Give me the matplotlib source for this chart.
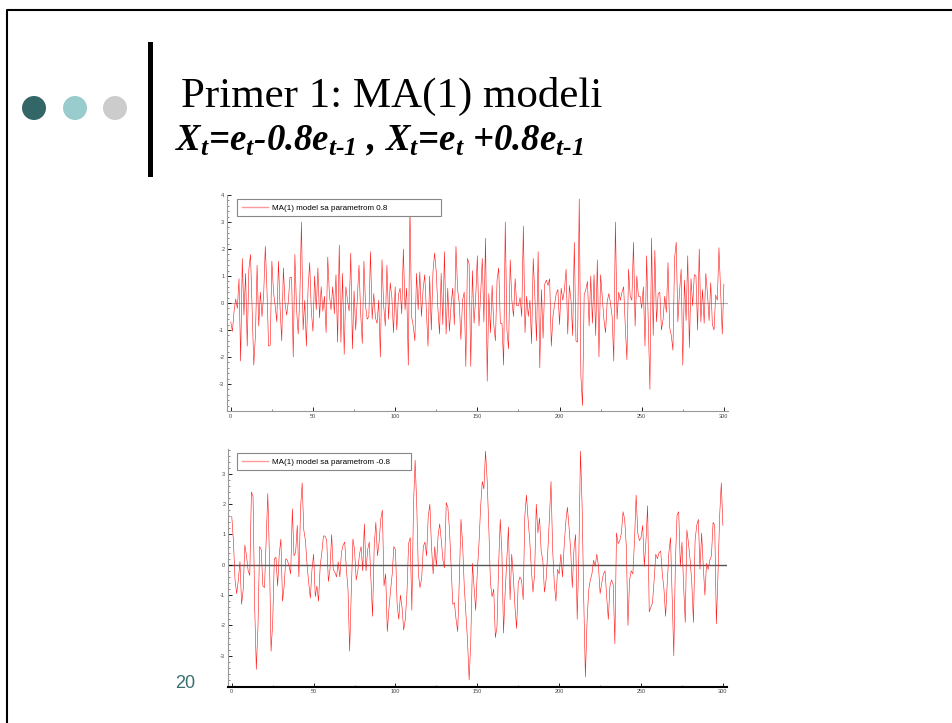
#!/usr/bin/env python
"""
Slide 20: MA(1) examples, X_t = e_t - 0.8 e_{t-1} and X_t = e_t + 0.8 e_{t-1}
"""

import numpy as np
import matplotlib
matplotlib.use("Agg")
import matplotlib.pyplot as plt
from matplotlib.patches import Ellipse, Rectangle
from matplotlib.lines import Line2D
from matplotlib.ticker import MultipleLocator

# series (t = 0..300)
ma_pos = [
    -0.7, -1.05, -0.3, 0.15, -0.2, 0.9, -2.15, 1.65, -0.45, 1.1,
    -1.6, 1.25, 1.8, -0.3, -2.3, -1.2, 1.4, -0.85, 0.4, -0.5,
    0.3, 2.1, 0.5, -1.6, -1.55, 1.55, 0.4, -0.1, -0.7, 1.55,
    -0.2, -1.4, 1.3, 0.0, -0.45, 0.05, 0.95, 0.95, -2.0, 1.8,
    -0.2, -1.15, 0.2, 3.0, -1.0, 0.1, -1.6, 0.5, 1.5, -0.3,
    -1.05, 1.0, -0.25, 1.3, -0.55, 0.6, -0.3, 0.25, -1.1, 1.7,
    0.3, -0.25, 0.6, -0.4, 1.05, -1.45, 2.15, -1.45, 1.1, -1.9,
    0.6, 0.1, -0.3, 1.85, -1.7, 0.45, -1.0, 0.2, 1.4, -0.35,
    -1.5, 1.55, -0.1, -0.6, -0.5, 1.9, -0.6, 0.35, -0.55, -0.75,
    0.1, -2.0, 1.6, -0.1, -0.85, 1.4, -0.6, 0.75, 0.2, -1.1,
    0.6, -1.0, 0.3, 0.55, -0.4, 2.0, -0.25, 0.55, -2.3, 3.6,
    -0.5, -0.85, -1.4, 1.1, -0.25, 1.15, -0.5, 0.5, 1.05, -0.25,
    -1.6, 1.0, -1.0, 1.15, 1.85, 1.15, -0.2, -1.15, 1.1, -0.8,
    1.9, -1.15, 0.55, -1.05, -0.1, 0.55, -0.8, 2.1, 0.5, 0.0,
    -1.35, 0.1, 0.4, -2.35, 1.65, 1.45, -2.35, 1.2, -0.75, 0.2,
    1.75, -0.85, 0.3, 1.65, -0.7, 2.4, -2.9, 0.35, -1.1, 0.65,
    -0.8, -1.4, 0.85, 1.3, -0.75, -0.75, -2.3, 3.0, -1.0, -1.7,
    1.6, 0.1, -0.5, 0.9, -0.1, -0.1, 0.2, -0.5, 2.85, -1.1,
    0.25, -0.5, 0.1, -1.5, 1.65, 0.25, -1.4, 1.9, -2.4, 0.5,
    -1.3, 0.7, 0.85, 0.65, 0.9, -1.6, -0.5, -0.05, 0.35, 0.5,
    -0.8, 0.55, 0.1, 0.5, 1.25, -1.15, 0.65, 0.1, -1.2, 2.25,
    -1.4, -1.45, 3.85, -2.7, -3.8, 0.3, 0.5, 0.8, -0.85, 1.0,
    -0.75, 1.05, -1.2, 1.6, -2.0, 1.05, 0.25, -0.6, -1.1, 0.05,
    0.35, 0.0, -0.5, -2.15, 3.0, -0.6, 0.4, 0.1, 0.4, 0.6,
    -0.85, -2.1, 1.25, 0.25, 0.1, 2.25, -0.85, 1.0, 0.25, 0.25,
    -0.2, 0.6, -1.6, 1.75, -0.75, -3.2, 2.4, -1.2, 1.95, -0.7,
    0.35, 0.4, -1.0, -0.6, 0.25, -0.35, 1.5, -0.9, -1.2, -1.75,
    1.65, 2.25, -0.7, 0.4, 1.25, -2.3, 0.85, -0.65, 1.75, -1.65,
    0.9, -0.1, 1.05, 1.0, -1.0, 2.0, -0.7, 0.5, -0.75, 1.1,
    0.35, -0.65, 0.75, -0.8, -1.0, 0.3, 0.1, 2.05, 0.5, -1.15,
    0.7,
]

ma_neg = [
    1.6, 0.8, -0.5, -0.95, -0.5, 0.1, -1.3, -0.8, 0.65, 0.3,
    -0.2, -0.35, 2.4, 2.25, -1.4, -3.45, -2.05, 0.6, 0.5, -0.7,
    -0.75, 0.8, 2.35, 0.3, -2.85, -1.9, 0.2, 0.25, -0.7, 0.35,
    0.85, -1.2, -0.7, 0.2, 0.15, -0.05, -0.3, 1.85, 0.3, 0.4,
    1.3, -0.4, 1.85, 2.7, 1.15, 0.8, 0.0, -0.6, -1.1, -0.15,
    0.35, -1.05, -0.7, -1.2, -0.05, 0.4, 0.95, 0.95, 0.8, -0.55,
    -0.15, 1.0, -0.15, -0.25, -0.4, 0.1, -0.4, 0.4, 0.65, 0.75,
    -0.15, -0.8, -2.85, -0.9, 0.85, 0.5, -0.5, -0.2, 0.35, 0.6,
    -0.2, 1.35, -0.2, 0.5, 0.75, -0.5, -1.7, 0.6, 1.4, 0.3,
    0.75, 1.5, 1.8, -0.7, -0.3, -2.2, -1.45, -0.85, -0.3, 0.6,
    0.5, -1.3, -1.8, -1.0, -1.4, -2.15, -1.8, -0.95, 0.7, 0.9,
    -1.5, 1.95, 3.45, 1.95, -0.3, -0.75, -0.45, 0.6, 0.75, 0.3,
    1.6, 2.0, 0.6, -0.3, 0.6, -0.05, 0.95, 1.35, 0.8, 0.15,
    -0.1, 2.05, 1.9, 1.15, -0.1, -1.3, -1.25, -1.8, -2.2, -0.5,
    1.5, 0.7, -0.7, -1.6, -2.5, -3.8, -2.5, 0.05, -0.7, -1.5,
    -0.2, 0.7, 1.9, 2.75, 2.5, 3.75, 2.8, 1.25, -0.6, -1.05,
    -0.8, -2.4, -2.05, 0.0, 1.5, 0.4, -2.25, -0.9, 0.15, 1.25,
    -1.15, 0.35, -0.4, -1.4, -2.1, -0.6, -0.4, -0.5, -1.15, 1.6,
    2.3, 1.5, 0.8, -0.15, -0.9, -0.3, 2.0, 1.05, 1.55, 0.45,
    0.15, -0.9, -0.5, 0.4, 1.5, 2.75, 0.5, -0.6, -1.2, -0.15,
    -0.3, 0.35, -0.4, 0.6, 1.4, 1.9, 1.25, 0.5, -0.75, 0.5,
    1.0, -1.8, 0.3, 3.75, 1.95, -1.15, -3.7, -1.9, -0.85, -0.5,
    -0.3, 0.15, -0.05, 0.35, -0.05, -0.95, -0.6, -0.3, -0.2, -1.05,
    -1.8, -0.7, -0.5, -0.65, -2.6, 1.05, 0.7, 0.8, 1.05, 1.75,
    1.5, 0.6, -2.0, -0.5, -0.2, -0.3, 0.8, 2.3, 1.05, 0.8,
    0.9, 1.3, -0.05, 0.8, 1.95, -1.55, -1.4, -1.25, -0.5, 0.35,
    0.2, 0.4, 0.45, -0.3, -0.8, -1.7, -0.6, 0.4, 0.9, -1.05,
    -3.0, 0.15, 1.65, 1.75, -0.05, 0.75, -0.7, -1.9, 1.15, 0.7,
    0.15, -0.6, -1.9, 0.8, 1.3, 1.5, -0.15, 1.05, -0.05, -1.0,
    0.05, -0.15, 0.15, 0.3, 1.4, 1.3, -1.95, -0.3, 1.6, 2.7,
    1.3,
]

labels = ["MA(1) model sa parametrom 0.8", "MA(1) model sa parametrom -0.8"]
title = "Primer 1: MA(1) modeli"
subtitle = r"$X_t$=$e_t$-0.8$e_{t\text{-}1}$ , $X_t$=$e_t$ +0.8$e_{t\text{-}1}$"
page_no = "20"


def style_axes(ax, ylim, yticks, bottom_color, bottom_lw):
    ax.set_xlim(-2.3, 302.5)
    ax.set_ylim(*ylim)
    ax.set_xticks(np.arange(0, 301, 50))
    ax.xaxis.set_minor_locator(MultipleLocator(25))
    ax.set_yticks(yticks)
    ax.yaxis.set_minor_locator(MultipleLocator(0.2))
    ax.tick_params(which="both", direction="in", labelsize=4,
                   labelcolor="#444444", width=0.6, pad=2)
    ax.tick_params(which="major", length=3)
    ax.tick_params(which="minor", length=1.6, color="#777777")
    ax.spines["top"].set_visible(False)
    ax.spines["right"].set_visible(False)
    ax.spines["left"].set_color("#999999")
    ax.spines["left"].set_linewidth(0.8)
    ax.spines["bottom"].set_color(bottom_color)
    ax.spines["bottom"].set_linewidth(bottom_lw)


def add_legend(ax, anchor):
    leg = ax.legend(loc="upper left", bbox_to_anchor=anchor, mode="expand",
                    borderaxespad=0, fontsize=5.8, handlelength=3.3,
                    handletextpad=0.5, borderpad=0.6, fancybox=False,
                    framealpha=1)
    leg.get_frame().set_edgecolor("#888888")
    leg.get_frame().set_linewidth(0.8)
    leg.get_lines()[0].set_color("#ff9999")
    leg.get_lines()[0].set_linewidth(1.0)


def main():
    plt.rcParams["font.family"] = "Liberation Sans"
    plt.rcParams["axes.unicode_minus"] = False
    plt.rcParams["mathtext.fontset"] = "custom"
    plt.rcParams["mathtext.rm"] = "Liberation Serif:bold:italic"
    plt.rcParams["mathtext.it"] = "Liberation Serif:bold:italic"
    plt.rcParams["mathtext.bf"] = "Liberation Serif:bold:italic"

    fig = plt.figure(figsize=(9.53, 7.23), dpi=100)
    W, H = 953.0, 723.0

    # slide frame, bullets and bar
    fig.add_artist(Line2D([6.5 / W, 6.5 / W, 1.0],
                          [0.0, 1 - 10.0 / H, 1 - 10.0 / H],
                          transform=fig.transFigure, color="black", lw=1.5))
    for cx, col in zip([34, 75, 115], ["#336666", "#99cccc", "#cccccc"]):
        fig.add_artist(Ellipse((cx / W, 1 - 108 / H), 24 / W, 24 / H,
                               transform=fig.transFigure, color=col, lw=0))
    fig.add_artist(Rectangle((148 / W, 1 - 177 / H), 5 / W, 135 / H,
                             transform=fig.transFigure, color="black", lw=0))

    fig.text(181 / W, 1 - 107 / H, title, family="Liberation Serif",
             fontsize=31, va="baseline", ha="left")
    fig.text(175 / W, 1 - 150 / H, subtitle, family="Liberation Serif",
             style="italic", weight="bold", fontsize=26.5,
             va="baseline", ha="left")
    fig.text(175 / W, 1 - 688 / H, page_no, fontsize=13, color="#3a6e6e",
             va="baseline", ha="left")

    # top panel
    ax1 = fig.add_axes([227 / W, 1 - 411 / H, 501 / W, 216 / H])
    x1 = np.arange(len(ma_pos))
    ax1.axhline(0, color="#aaaaaa", lw=0.8, zorder=1)
    ax1.plot(x1, ma_pos, color="#ff1a1a", lw=0.42, label=labels[0], zorder=2)
    style_axes(ax1, (-4.0, 4.0), np.arange(-3, 5), "#999999", 0.8)
    add_legend(ax1, (0.02, 0.0, 0.407, 0.981))

    # bottom panel
    ax2 = fig.add_axes([228 / W, 1 - 686.7 / H, 499 / W, 237.7 / H])
    x2 = np.arange(len(ma_neg))
    ax2.axhline(0, color="#555555", lw=1.0, zorder=1)
    ax2.plot(x2, ma_neg, color="#ff1a1a", lw=0.42, label=labels[1], zorder=2)
    style_axes(ax2, (-4.02, 3.82), np.arange(-3, 4), "black", 1.5)
    add_legend(ax2, (0.018, 0.0, 0.349, 0.983))

    fig.savefig("out.png", dpi=100)


if __name__ == "__main__":
    main()
